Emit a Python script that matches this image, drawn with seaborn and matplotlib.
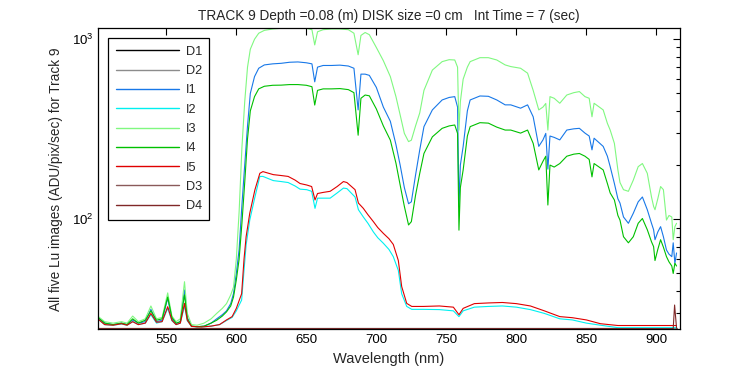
import numpy as np
import pandas as pd
import matplotlib
matplotlib.use("Agg")
import matplotlib.pyplot as plt
import seaborn as sns
from matplotlib.ticker import LogLocator, FixedLocator, NullFormatter

# ---------------- data ----------------
wl_hi = [501, 506, 512, 518, 522, 526, 530, 535, 539, 543, 547, 551, 554, 557, 560,
         563, 565, 568, 572, 577, 582, 586, 590, 593, 596, 598, 600, 602, 604, 606,
         608, 610, 613, 616, 620, 626, 632, 638, 644, 650, 654, 656, 658, 662, 668,
         674, 680, 684, 687, 689, 692, 695, 700, 705, 710, 714, 717, 720, 723, 725,
         728, 731, 734, 740, 747, 752, 756, 758, 759, 760, 762, 765, 767, 774, 780,
         786, 792, 796, 803, 808, 812, 816, 819, 821, 822.5, 824, 827, 831, 836, 841,
         845, 849, 852, 854, 855.5, 862, 865, 867, 870, 872.5, 874, 876.5, 880, 883.5,
         887, 890, 893.5, 896.5, 898, 899, 901, 903, 905, 907.2, 909, 911, 912, 913.2, 914.4]

I3 = [29, 27, 26.5, 27, 26.5, 29, 27, 28, 33, 28, 28.5, 39, 29, 27, 28,
      45, 30, 26, 25.8, 26.5, 28, 30, 32, 34, 38, 42, 60, 110, 250, 450,
      700, 880, 1000, 1080, 1120, 1140, 1150, 1150, 1150, 1150, 1130, 930, 1100, 1130, 1140,
      1140, 1130, 1080, 820, 1050, 1090, 1060, 900, 760, 620, 480, 380, 300, 270, 275,
      330, 390, 520, 674, 751, 770, 767, 700, 313, 450, 600, 700, 751, 790, 790,
      767, 720, 705, 690, 648, 520, 405, 420, 440, 313, 480, 470, 441, 490, 505,
      512, 480, 470, 371, 441, 405, 341, 313, 264, 188, 160, 146, 143, 165,
      196, 204, 180, 133, 118, 113, 130, 152, 146, 99, 105, 103, 77, 91, 95]

I1 = [28.5, 26.5, 26, 26.5, 26, 27.6, 26.5, 27, 31.6, 27, 27.5, 36.4, 28, 26.3, 27,
      40.5, 28.5, 25.5, 25.3, 25.5, 26.5, 28, 29.5, 31, 34, 38.7, 50, 68, 120, 200,
      330, 500, 620, 690, 720, 730, 735, 745, 748, 740, 730, 580, 700, 715, 715,
      718, 710, 690, 405, 640, 640, 630, 540, 420, 350, 260, 200, 150, 122, 125,
      176, 243, 327, 405, 460, 475, 480, 420, 117, 200, 254, 400, 460, 484, 482,
      460, 432, 432, 414, 432, 371, 254, 276, 300, 190, 290, 285, 276, 313, 318,
      320, 301, 290, 243, 282, 254, 224, 196, 158, 130, 123, 103, 95, 108,
      125, 133, 113, 95, 87.5, 77, 85, 91, 80, 67.5, 64, 62, 74, 57, 65]

I4 = [28.5, 26.5, 26, 26.5, 26, 28, 26.5, 27.5, 31, 27.5, 28, 37, 28.5, 26.5, 27,
      38, 28, 25.5, 25.3, 25.5, 26.5, 27.5, 29, 30.6, 33, 37, 46, 60, 95, 160,
      280, 400, 480, 530, 548, 555, 556, 560, 560, 555, 545, 431, 520, 530, 530,
      532, 525, 505, 293, 470, 490, 485, 410, 330, 275, 205, 155, 118, 93, 97,
      136, 180, 232, 287, 320, 330, 334, 300, 87, 150, 188, 290, 327, 344, 342,
      325, 313, 313, 301, 313, 264, 188, 210, 224, 120, 200, 195, 204, 224, 230,
      232, 224, 215, 172, 204, 188, 158, 140, 128, 105, 99, 80, 74, 80,
      95, 101, 87.5, 75, 70.5, 59, 68, 77, 70, 62, 58, 55, 50, 57, 55]

wl_lo = [501, 506, 512, 518, 522, 526, 530, 535, 539, 543, 547, 551, 554, 557, 560,
         563, 565, 568, 575, 582, 588, 593, 597, 600, 603.8, 605.5, 607, 609.6, 613.3, 616.8,
         619, 626.4, 632, 637, 642, 645.5, 650.3, 653.8, 656.2, 658, 662, 667, 672, 676.5, 679,
         684.8, 687.2, 690.7, 694, 697.9, 701, 705, 709, 712.1, 715.7, 718.1, 721.7, 725.3, 733.5, 745,
         755, 759, 762, 770, 780, 790, 800, 810, 820, 831, 840, 850, 860, 872.5, 890, 914.4]

I5 = [28, 26, 25.8, 26.3, 25.8, 27, 26, 26.5, 30, 26.8, 27, 32.7, 27.5, 26, 26.5,
      34.1, 27.5, 25.4, 25.2, 25.5, 26, 27.6, 28.8, 32, 38.6, 60, 80, 108, 146, 180,
      184, 177, 175, 173, 165, 158, 155, 152, 128, 139, 141, 143, 152, 162, 160,
      146, 123, 115, 106, 97, 90, 83.5, 78, 72.5, 59, 42.3, 34.1, 32.8, 32.8, 33,
      32.5, 29.5, 32, 34, 34.3, 34.5, 34, 33, 31, 28.8, 28.4, 27.6, 26.3, 25.7, 25.7, 25.7]

I2 = [28, 26, 25.8, 26.2, 25.8, 27, 26, 26.5, 29.5, 26.5, 27, 32, 27.3, 26, 26.5,
      33, 27.3, 25.4, 25.2, 25.5, 26, 27.4, 28.5, 31, 35.6, 52, 72, 99, 133, 173,
      173, 164, 162, 160, 153, 147, 146, 143, 115, 131, 131, 131, 140, 149, 148,
      133, 113, 103, 95, 85, 79, 73.6, 68, 62, 52, 38.6, 32.8, 31.6, 31.6, 31.5,
      31, 28.8, 31, 32.5, 32.8, 33, 32.5, 31.5, 30, 28, 27.6, 26.5, 25.8, 25, 25, 25]

wl_dark = [501, 600, 700, 800, 900, 912, 913, 914.4]
D1 = [24.9, 24.9, 24.9, 24.9, 24.9, 24.9, 24.9, 24.9]
D2 = [24.8, 24.8, 24.8, 24.8, 24.8, 24.8, 24.8, 24.8]
D3 = [24.7, 24.7, 24.7, 24.7, 24.7, 24.7, 24.7, 24.7]
D4 = [24.7, 24.7, 24.7, 24.7, 24.7, 24.7, 33.4, 24.8]

x_ticks = [550, 600, 650, 700, 750, 800, 850, 900]

title = "TRACK 9 Depth =0.08 (m) DISK size =0 cm   Int Time = 7 (sec)"
xlabel = "Wavelength (nm)"
ylabel = "All five Lu images (ADU/pix/sec) for Track 9"

# ---------------- styling ----------------
sns.set_theme(style="white")
plt.rcParams["font.family"] = ["Liberation Sans", "DejaVu Sans"]
plt.rcParams["mathtext.fontset"] = "custom"
plt.rcParams["mathtext.rm"] = "Liberation Sans"
plt.rcParams["mathtext.it"] = "Liberation Sans"

series = [
    ("D1", wl_dark, D1, "#000000"),
    ("D2", wl_dark, D2, "#8c8c8c"),
    ("I1", wl_hi, I1, "#1878e8"),
    ("I2", wl_lo, I2, "#00f0f0"),
    ("I3", wl_hi, I3, "#80f880"),
    ("I4", wl_hi, I4, "#00c000"),
    ("I5", wl_lo, I5, "#e00000"),
    ("D3", wl_dark, D3, "#8a5a5a"),
    ("D4", wl_dark, D4, "#802828"),
]

fig = plt.figure(figsize=(7.5, 3.75), dpi=100)
ax = fig.add_axes([0.131, 0.122, 0.775, 0.8025])

for name, xs, ys, col in series:
    df = pd.DataFrame({"wl": xs, "val": ys})
    sns.lineplot(data=df, x="wl", y="val", ax=ax, color=col, lw=0.8,
                 label=name, sort=False, estimator=None)

ax.set_yscale("log")
ax.set_xlim(501.4, 916.5)
ax.set_ylim(24.5, 1150)
ax.xaxis.set_major_locator(FixedLocator(x_ticks))
ax.yaxis.set_major_locator(LogLocator(base=10))
ax.yaxis.set_minor_locator(LogLocator(base=10, subs=np.arange(2, 10)))
ax.yaxis.set_minor_formatter(NullFormatter())

ax.tick_params(axis="both", which="both", direction="in", top=True, right=True,
               labelsize=9.5, colors="black")
ax.tick_params(axis="both", which="major", length=5, width=0.8)
ax.tick_params(axis="y", which="minor", length=3, width=0.8)
ax.tick_params(axis="x", which="minor", length=0)
for sp in ax.spines.values():
    sp.set_color("black")
    sp.set_linewidth(0.9)

ax.set_title(title, fontsize=9.8, pad=6)
ax.set_xlabel(xlabel, fontsize=10.5, labelpad=4)
ax.set_ylabel(ylabel, fontsize=9.8, labelpad=6)

leg = ax.legend(loc="upper left", bbox_to_anchor=(0.0172, 0.967), fontsize=9.2,
                frameon=True, fancybox=False, edgecolor="black", framealpha=1,
                handlelength=4.9, handletextpad=0.55, labelspacing=0.57,
                borderpad=0.6, borderaxespad=0.0)
leg.get_frame().set_linewidth(0.9)
for h in leg.legend_handles:
    h.set_linewidth(1.0)

fig.savefig("out.png", dpi=100)
